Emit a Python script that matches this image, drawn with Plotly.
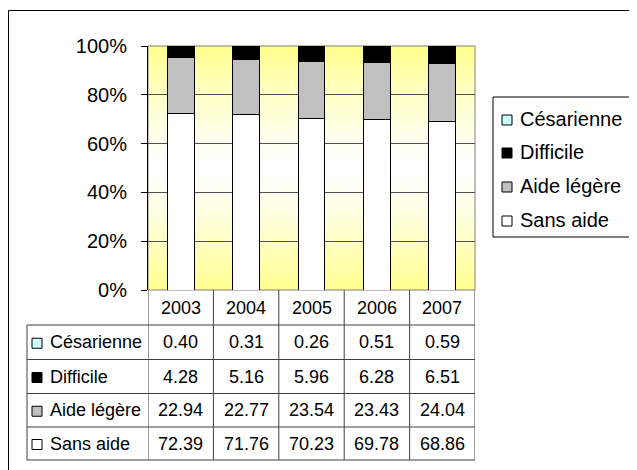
import plotly.graph_objects as go

years = ["2003", "2004", "2005", "2006", "2007"]
series_names = ["Sans aide", "Aide légère", "Difficile", "Césarienne"]
sans_aide = [72.39, 71.76, 70.23, 69.78, 68.86]
aide_legere = [22.94, 22.77, 23.54, 23.43, 24.04]
difficile = [4.28, 5.16, 5.96, 6.28, 6.51]
cesarienne = [0.40, 0.31, 0.26, 0.51, 0.59]
series_values = [sans_aide, aide_legere, difficile, cesarienne]
series_colors = ["#FFFFFF", "#C0C0C0", "#000000", "#CCFFFF"]
y_ticks = [0, 20, 40, 60, 80, 100]

W, H = 637, 470
OFF = 8  # page body margin
FONT = "Liberation Sans, Arial, sans-serif"


def px(x):
    return (x - OFF) / W


def py(y):
    return 1 - (y - OFF) / H


PL, PR, PT, PB = 148, 475, 46, 290

fig = go.Figure()
for name, vals, col in zip(series_names, series_values, series_colors):
    fig.add_trace(go.Bar(
        x=years, y=vals, name=name,
        marker=dict(color=col, line=dict(color="#000000", width=1)),
        showlegend=False, hoverinfo="x+y+name",
    ))

shapes = []
# gradient background: yellow at top and bottom, white in the middle
N = 80
for i in range(N):
    t0 = i / N
    t1 = (i + 1) / N
    tc = (t0 + t1) / 2
    f = abs(2 * tc - 1) ** 1.3
    r, g, b = 255, 255, round(255 - (255 - 140) * f)
    shapes.append(dict(type="rect", xref="x domain", yref="y domain",
                       x0=0, x1=1, y0=t0, y1=t1 + 0.002, layer="below",
                       line=dict(width=0), fillcolor=f"rgb({r},{g},{b})"))
# plot frame
shapes.append(dict(type="rect", xref="x domain", yref="y domain", x0=0, x1=1,
                   y0=0, y1=1, layer="below",
                   line=dict(color="#808080", width=1)))
# outer chart border
shapes.append(dict(type="rect", xref="paper", yref="paper",
                   x0=px(8.5), x1=1.02, y0=-0.02, y1=py(10.5),
                   line=dict(color="#000000", width=1)))

# data table
LINE = dict(color="#404040", width=1)
row_edges = [325, 359.5, 393.5, 427, 460]
header_top = PB
label_left = 27
ncat = len(years)
for i in range(ncat + 1):
    shapes.append(dict(type="line", xref="x", yref="paper",
                       x0=i - 0.5, x1=i - 0.5, y0=py(header_top), y1=py(row_edges[-1]),
                       line=LINE))
shapes.append(dict(type="line", xref="paper", yref="paper",
                   x0=px(label_left), x1=px(label_left), y0=py(row_edges[0]), y1=py(row_edges[-1]),
                   line=LINE))
for j, ye in enumerate(row_edges):
    shapes.append(dict(type="line", xref="paper", yref="paper",
                       x0=px(label_left), x1=px(PR), y0=py(ye), y1=py(ye), line=LINE))

annotations = []
for ci, yr in enumerate(years):
    annotations.append(dict(x=ci, xref="x", y=py((header_top + row_edges[0]) / 2), yref="paper",
                            text=yr, showarrow=False, xanchor="center", yanchor="middle",
                            font=dict(family=FONT, size=18, color="#000000")))
table_order = [3, 2, 1, 0]
for r, si in enumerate(table_order):
    yc = (row_edges[r] + row_edges[r + 1]) / 2
    shapes.append(dict(type="rect", xref="paper", yref="paper",
                       x0=px(32), x1=px(42), y0=py(yc - 4), y1=py(yc + 6),
                       fillcolor=series_colors[si], line=dict(color="#000000", width=1)))
    annotations.append(dict(x=px(48), xref="paper", y=py(yc), yref="paper",
                            text=series_names[si], showarrow=False, xanchor="left", yanchor="middle",
                            font=dict(family=FONT, size=18, color="#000000")))
    for ci, v in enumerate(series_values[si]):
        annotations.append(dict(x=ci, xref="x", y=py(yc), yref="paper",
                                text=f"{v:.2f}", showarrow=False, xanchor="center", yanchor="middle",
                                font=dict(family=FONT, size=18, color="#000000")))

# legend (manual)
LG_L, LG_R, LG_T, LG_B = 493, 634, 97, 237
shapes.append(dict(type="rect", xref="paper", yref="paper",
                   x0=px(LG_L), x1=px(LG_R), y0=py(LG_B), y1=py(LG_T),
                   fillcolor="#FFFFFF", line=dict(color="#000000", width=1)))
legend_y = [119, 152, 186, 220]
for k, si in enumerate(table_order):
    yc = legend_y[k]
    shapes.append(dict(type="rect", xref="paper", yref="paper",
                       x0=px(502), x1=px(512), y0=py(yc - 4), y1=py(yc + 6),
                       fillcolor=series_colors[si], line=dict(color="#000000", width=1)))
    annotations.append(dict(x=px(518), xref="paper", y=py(yc), yref="paper",
                            text=series_names[si], showarrow=False, xanchor="left", yanchor="middle",
                            font=dict(family=FONT, size=20, color="#000000")))

fig.update_layout(
    template="none",
    width=W, height=H, autosize=False,
    margin=dict(l=0, r=0, t=0, b=0, pad=0, autoexpand=False),
    paper_bgcolor="#FFFFFF", plot_bgcolor="rgba(0,0,0,0)",
    barmode="stack", bargap=0.59,
    shapes=shapes, annotations=annotations,
    showlegend=False,
    xaxis=dict(type="category", domain=[px(PL), px(PR)], range=[-0.5, ncat - 0.5],
               showticklabels=False, ticks="", showgrid=False, showline=False,
               zeroline=False, fixedrange=True, automargin=False),
    yaxis=dict(domain=[py(PB), py(PT)], range=[0, 100], tickvals=y_ticks,
               ticktext=[f"{v}%" for v in y_ticks],
               ticks="outside", ticklen=6, tickcolor="#000000", tickwidth=1,
               showline=True, linecolor="#000000", linewidth=1,
               showgrid=True, gridcolor="#505050", gridwidth=1, zeroline=False,
               tickfont=dict(family=FONT, size=20, color="#000000"),
               ticklabelstandoff=10, fixedrange=True, automargin=False),
)

fig.write_html("out.html")
